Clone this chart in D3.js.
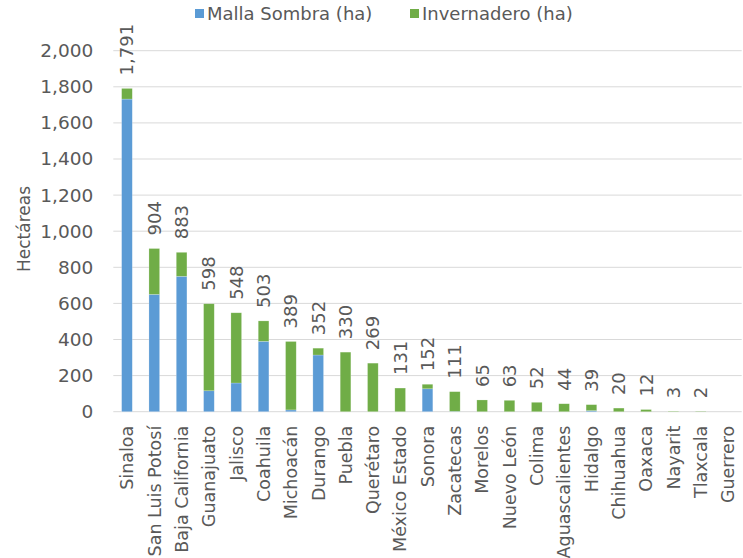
<!DOCTYPE html>
<html>
<head>
<meta charset="utf-8">
<script src="https://cdn.jsdelivr.net/npm/d3@7"></script>
<style>
  html, body { margin: 0; padding: 0; background: #ffffff; }
  svg { display: block; }
  text { font-family: "DejaVu Sans", sans-serif; fill: #595959; }
</style>
</head>
<body>
<svg id="chart" width="743" height="558"></svg>
<script>
const categories = ["Sinaloa", "San Luis Potosí", "Baja California", "Guanajuato", "Jalisco", "Coahuila",
  "Michoacán", "Durango", "Puebla", "Querétaro", "México Estado", "Sonora", "Zacatecas", "Morelos",
  "Nuevo León", "Colima", "Aguascalientes", "Hidalgo", "Chihuahua", "Oaxaca", "Nayarit", "Tlaxcala", "Guerrero"];
const mallaSombra = [1732, 650, 750, 116, 159, 390, 10, 314, 0, 0, 0, 127, 2, 0, 0, 0, 0, 6, 0, 0, 0, 0, 0];
const invernadero = [59, 254, 133, 482, 389, 113, 379, 38, 330, 269, 131, 25, 109, 65, 63, 52, 44, 33, 20, 12, 3, 2, 0];
const totals = [1791, 904, 883, 598, 548, 503, 389, 352, 330, 269, 131, 152, 111, 65, 63, 52, 44, 39, 20, 12, 3, 2, null];
const yTicks = [0, 200, 400, 600, 800, 1000, 1200, 1400, 1600, 1800, 2000];
const seriesNames = ["Malla Sombra (ha)", "Invernadero (ha)"];
const seriesColors = ["#5B9BD5", "#70AD47"];
const yTitle = "Hectáreas";

const svg = d3.select("#chart");
const plot = { left: 113.3, right: 741.7, top: 50.7, bottom: 411.7 };

const x = d3.scaleBand().domain(categories).range([plot.left, plot.right]).paddingInner(0.61).paddingOuter(0.305);
const y = d3.scaleLinear().domain([0, 2000]).range([plot.bottom, plot.top]);

// gridlines
svg.append("g").selectAll("line").data(yTicks).join("line")
  .attr("x1", plot.left).attr("x2", plot.right)
  .attr("y1", d => y(d)).attr("y2", d => y(d))
  .attr("stroke", "#D9D9D9").attr("stroke-width", 1);

// y axis labels
const yAxis = d3.axisLeft(y).tickValues(yTicks).tickFormat(d3.format(",")).tickSize(0).tickPadding(0);
const yg = svg.append("g").attr("transform", `translate(${plot.left - 20},0)`).call(yAxis);
yg.select(".domain").remove();
yg.selectAll("text").attr("font-size", 18.5).attr("font-family", "DejaVu Sans, sans-serif").attr("fill", "#595959");

// stacked bars
const rows = categories.map((c, i) => ({ cat: c, m: mallaSombra[i], v: invernadero[i] }));
const stack = d3.stack().keys(["m", "v"])(rows);
svg.append("g").selectAll("g").data(stack).join("g")
  .attr("fill", (d, i) => seriesColors[i])
  .selectAll("rect").data(d => d).join("rect")
  .attr("x", d => x(d.data.cat))
  .attr("width", x.bandwidth())
  .attr("y", d => y(d[1]))
  .attr("height", d => Math.max(0, y(d[0]) - y(d[1])))
  .attr("stroke", "rgba(255,255,255,0.35)").attr("stroke-width", 0.6);

// total labels
svg.append("g").selectAll("text").data(categories.map((c, i) => ({ c, t: totals[i] })).filter(d => d.t != null))
  .join("text")
  .attr("transform", d => `translate(${x(d.c) + x.bandwidth() / 2},${y(d.t) - 13}) rotate(-90)`)
  .attr("dy", "0.36em")
  .attr("text-anchor", "start")
  .attr("font-size", 18)
  .text(d => d3.format(",")(d.t));

// x labels
svg.append("g").selectAll("text").data(categories).join("text")
  .attr("transform", d => `translate(${x(d) + x.bandwidth() / 2},${plot.bottom + 14}) rotate(-90)`)
  .attr("dy", "0.36em")
  .attr("text-anchor", "end")
  .attr("font-size", 17.5)
  .text(d => d);

// y title
svg.append("text")
  .attr("transform", `translate(24,229) rotate(-90)`)
  .attr("dy", "0.36em")
  .attr("text-anchor", "middle")
  .attr("font-size", 17)
  .text(yTitle);

// legend
const legendItems = [{ x: 195, name: seriesNames[0], color: seriesColors[0] }, { x: 410, name: seriesNames[1], color: seriesColors[1] }];
const lg = svg.append("g");
lg.selectAll("rect").data(legendItems).join("rect")
  .attr("x", d => d.x).attr("y", 9).attr("width", 9).attr("height", 9)
  .attr("fill", d => d.color);
lg.selectAll("text").data(legendItems).join("text")
  .attr("x", d => d.x + 12).attr("y", 14).attr("dy", "0.36em")
  .attr("font-size", 18)
  .text(d => d.name);
</script>
</body>
</html>
